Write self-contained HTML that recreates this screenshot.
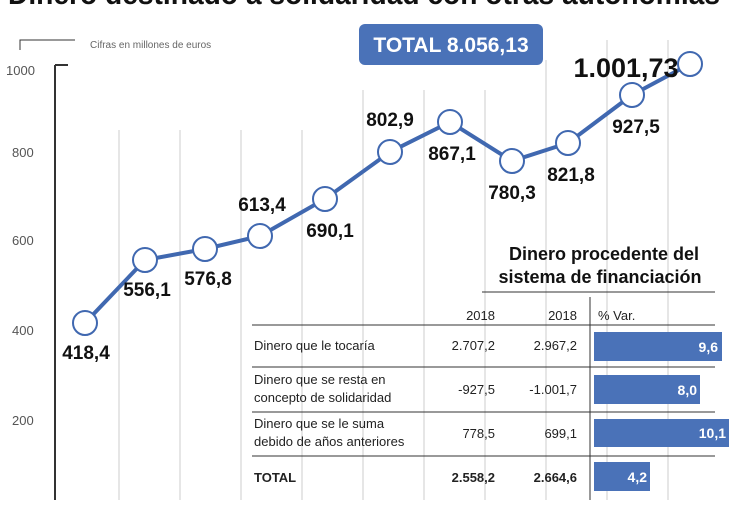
<!DOCTYPE html><html><head><style>
body{margin:0;width:730px;height:500px;overflow:hidden;background:#fff;font-family:"Liberation Sans",sans-serif}
</style></head><body>
<svg width="730" height="500" xmlns="http://www.w3.org/2000/svg" font-family="Liberation Sans, sans-serif">
<text x="8" y="4" font-size="30" font-weight="bold" fill="#111" textLength="712" lengthAdjust="spacingAndGlyphs">Dinero destinado a solidaridad con otras autonomías</text>
<g stroke="#ccc" stroke-width="1">
<line x1="119" y1="130" x2="119" y2="500"/><line x1="180" y1="130" x2="180" y2="500"/><line x1="241" y1="130" x2="241" y2="500"/><line x1="302" y1="130" x2="302" y2="500"/><line x1="363" y1="90" x2="363" y2="500"/><line x1="424" y1="90" x2="424" y2="500"/><line x1="485" y1="90" x2="485" y2="500"/><line x1="546" y1="60" x2="546" y2="500"/><line x1="607" y1="40" x2="607" y2="500"/><line x1="668" y1="40" x2="668" y2="500"/>
</g>
<polyline points="20,50 20,40 75,40" fill="none" stroke="#333" stroke-width="1"/>
<text x="90" y="48" font-size="10" fill="#666">Cifras en millones de euros</text>
<line x1="55" y1="65" x2="55" y2="500" stroke="#333" stroke-width="2"/><line x1="55" y1="65" x2="68" y2="65" stroke="#333" stroke-width="2"/>
<g font-size="13" fill="#555"><text x="6" y="75">1000</text><text x="12" y="157">800</text><text x="12" y="245">600</text><text x="12" y="335">400</text><text x="12" y="425">200</text></g>
<rect x="359" y="24" width="184" height="41" rx="6" fill="#4a72b8"/>
<text x="451" y="52" font-size="21" font-weight="bold" fill="#fff" text-anchor="middle">TOTAL 8.056,13</text>
<polyline points="85,323 145,260 205,249 260,236 325,199 390,152 450,122 512,161 568,143 632,95 690,64" fill="none" stroke="#4068b0" stroke-width="4"/>
<g fill="#fff" stroke="#4068b0" stroke-width="2">
<circle cx="85" cy="323" r="12"/><circle cx="145" cy="260" r="12"/><circle cx="205" cy="249" r="12"/><circle cx="260" cy="236" r="12"/><circle cx="325" cy="199" r="12"/><circle cx="390" cy="152" r="12"/><circle cx="450" cy="122" r="12"/><circle cx="512" cy="161" r="12"/><circle cx="568" cy="143" r="12"/><circle cx="632" cy="95" r="12"/><circle cx="690" cy="64" r="12"/></g>
<g font-size="19" font-weight="bold" fill="#111" text-anchor="middle">
<text x="86" y="359">418,4</text><text x="147" y="296">556,1</text><text x="208" y="285">576,8</text><text x="262" y="211">613,4</text><text x="330" y="237">690,1</text><text x="390" y="126">802,9</text><text x="452" y="160">867,1</text><text x="512" y="199">780,3</text><text x="571" y="181">821,8</text><text x="636" y="133">927,5</text><text x="626" y="77" font-size="27">1.001,73</text>
</g>
<text x="604" y="260" font-size="18" font-weight="bold" fill="#111" text-anchor="middle">Dinero procedente del</text>
<text x="600" y="283" font-size="18" font-weight="bold" fill="#111" text-anchor="middle">sistema de financiación</text>
<line x1="482" y1="292" x2="715" y2="292" stroke="#333"/>
<line x1="590" y1="297" x2="590" y2="500" stroke="#333"/>
<g stroke="#333"><line x1="252" y1="325" x2="715" y2="325"/><line x1="252" y1="367" x2="715" y2="367"/><line x1="252" y1="412" x2="715" y2="412"/><line x1="252" y1="456" x2="715" y2="456"/></g>
<g fill="#4a72b8"><rect x="594" y="332" width="128" height="29"/><rect x="594" y="375" width="106" height="29"/><rect x="594" y="419" width="135" height="28"/><rect x="594" y="462" width="56" height="29"/></g>
<g font-size="13" fill="#222">
<text x="495" y="320" text-anchor="end">2018</text><text x="577" y="320" text-anchor="end">2018</text><text x="598" y="320">% Var.</text>
<text x="254" y="350">Dinero que le tocaría</text><text x="495" y="350" text-anchor="end">2.707,2</text><text x="577" y="350" text-anchor="end">2.967,2</text>
<text x="254" y="384">Dinero que se resta en</text><text x="254" y="402">concepto de solidaridad</text><text x="495" y="394" text-anchor="end">-927,5</text><text x="577" y="394" text-anchor="end">-1.001,7</text>
<text x="254" y="428">Dinero que se le suma</text><text x="254" y="446">debido de años anteriores</text><text x="495" y="438" text-anchor="end">778,5</text><text x="577" y="438" text-anchor="end">699,1</text>
<g font-weight="bold"><text x="254" y="482">TOTAL</text><text x="495" y="482" text-anchor="end">2.558,2</text><text x="577" y="482" text-anchor="end">2.664,6</text></g>
</g>
<g font-size="14" font-weight="bold" fill="#fff" text-anchor="end"><text x="718" y="352">9,6</text><text x="697" y="395">8,0</text><text x="726" y="438">10,1</text><text x="647" y="482">4,2</text></g>
</svg></body></html>
